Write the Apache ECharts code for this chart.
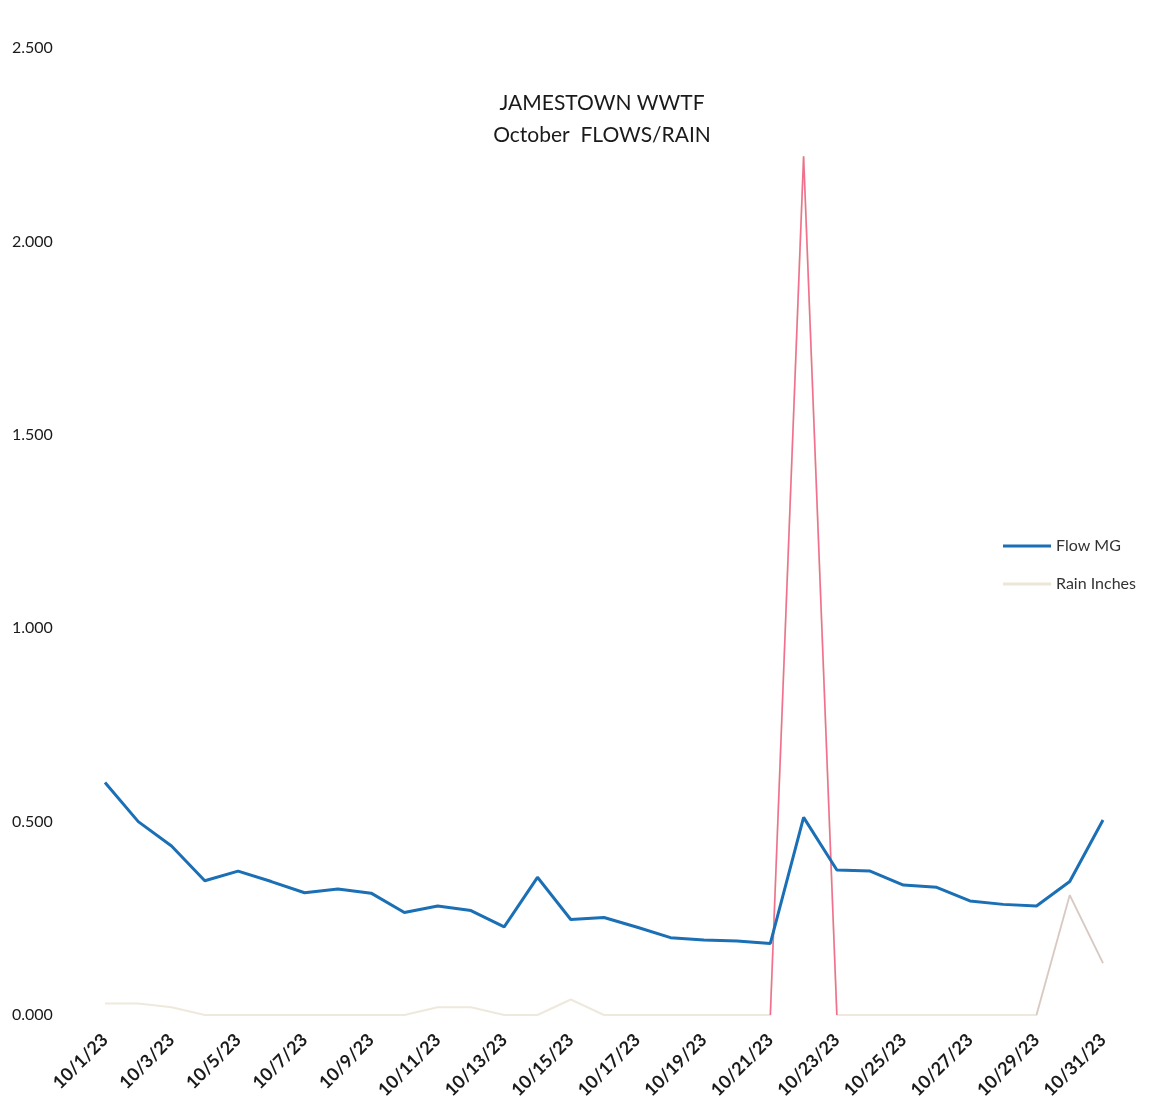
<!DOCTYPE html>
<html>
<head>
<meta charset="utf-8">
<script src="https://cdn.jsdelivr.net/npm/echarts@6/dist/echarts.min.js"></script>
<style>html,body{margin:0;padding:0;background:#fff;}#c{width:1176px;height:1117px;}</style>
</head>
<body>
<div id="c"></div>
<script>
const categories = ['10/1/23','10/2/23','10/3/23','10/4/23','10/5/23','10/6/23','10/7/23','10/8/23','10/9/23','10/10/23',
  '10/11/23','10/12/23','10/13/23','10/14/23','10/15/23','10/16/23','10/17/23','10/18/23','10/19/23','10/20/23',
  '10/21/23','10/22/23','10/23/23','10/24/23','10/25/23','10/26/23','10/27/23','10/28/23','10/29/23','10/30/23','10/31/23'];
const flowMG = [0.601,0.500,0.437,0.347,0.372,0.345,0.316,0.326,0.315,0.265,
  0.282,0.270,0.228,0.356,0.247,0.252,0.227,0.200,0.194,0.191,
  0.185,0.511,0.375,0.372,0.336,0.330,0.295,0.286,0.282,0.345,0.504];
const rainInches = [0.03,0.03,0.02,0.0,0.0,0.0,0.0,0.0,0.0,0.0,
  0.02,0.02,0.0,0.0,0.04,0.0,0.0,0.0,0.0,0.0,
  0.0,2.22,0.0,0.0,0.0,0.0,0.0,0.0,0.0,0.31,0.134];
const yTicks = [0, 0.5, 1.0, 1.5, 2.0, 2.5];

// segments of the rain line that appear in a stronger tint in the scan
const pinkIdx = [20, 21, 22];
const greyIdx = [28, 29, 30];
const pick = idx => rainInches.map((v, i) => idx.includes(i) ? v : null);

const chart = echarts.init(document.getElementById('c'));
const font = 'Lato, "Open Sans", sans-serif';
chart.setOption({
  animation: false,
  backgroundColor: '#fff',
  title: {
    text: 'JAMESTOWN WWTF\nOctober  FLOWS/RAIN',
    left: 597, top: 82, textAlign: 'center',
    textStyle: { fontFamily: font, fontSize: 21, fontWeight: 'normal', color: '#1a1a1a', lineHeight: 32 }
  },
  legend: {
    orient: 'vertical', left: 998, top: 533, itemGap: 22, itemWidth: 48, itemHeight: 3,
    textStyle: { fontFamily: font, fontSize: 16, color: '#333' },
    data: [
      { name: 'Flow MG', icon: 'rect', itemStyle: { color: '#1a6fb5' } },
      { name: 'Rain Inches', icon: 'rect', itemStyle: { color: '#ece6d6' } }
    ]
  },
  grid: { left: 105, right: 73, top: 48, bottom: 102 },
  xAxis: {
    type: 'category', data: categories, boundaryGap: false,
    axisLine: { show: false }, axisTick: { show: false },
    axisLabel: { interval: 1, rotate: 45, fontFamily: font, fontSize: 18, fontWeight: 'bold', color: '#1a1a1a', margin: 22 }
  },
  yAxis: {
    type: 'value', min: yTicks[0], max: yTicks[yTicks.length - 1], interval: 0.5,
    axisLine: { show: false }, axisTick: { show: false }, splitLine: { show: false },
    axisLabel: { formatter: v => v.toFixed(3), align: 'left', margin: 93, fontFamily: font, fontSize: 16, color: '#1a1a1a' }
  },
  series: [
    { name: 'Flow MG', type: 'line', data: flowMG, symbol: 'none', z: 4,
      lineStyle: { color: '#1a6fb5', width: 3 }, itemStyle: { color: '#1a6fb5' } },
    { name: 'Rain Inches', type: 'line', data: rainInches, symbol: 'none', z: 2,
      lineStyle: { width: 2, color: '#eee9dc' }, itemStyle: { color: '#ece6d6' } },
    { name: 'Rain Inches', type: 'line', data: pick(pinkIdx), symbol: 'none', z: 3, connectNulls: false,
      lineStyle: { width: 1.6, color: '#f0708e' }, itemStyle: { color: '#ece6d6' } },
    { name: 'Rain Inches', type: 'line', data: pick(greyIdx), symbol: 'none', z: 3, connectNulls: false,
      lineStyle: { width: 1.6, color: '#d8c8c4' }, itemStyle: { color: '#ece6d6' } }
  ]
});
</script>
</body>
</html>
